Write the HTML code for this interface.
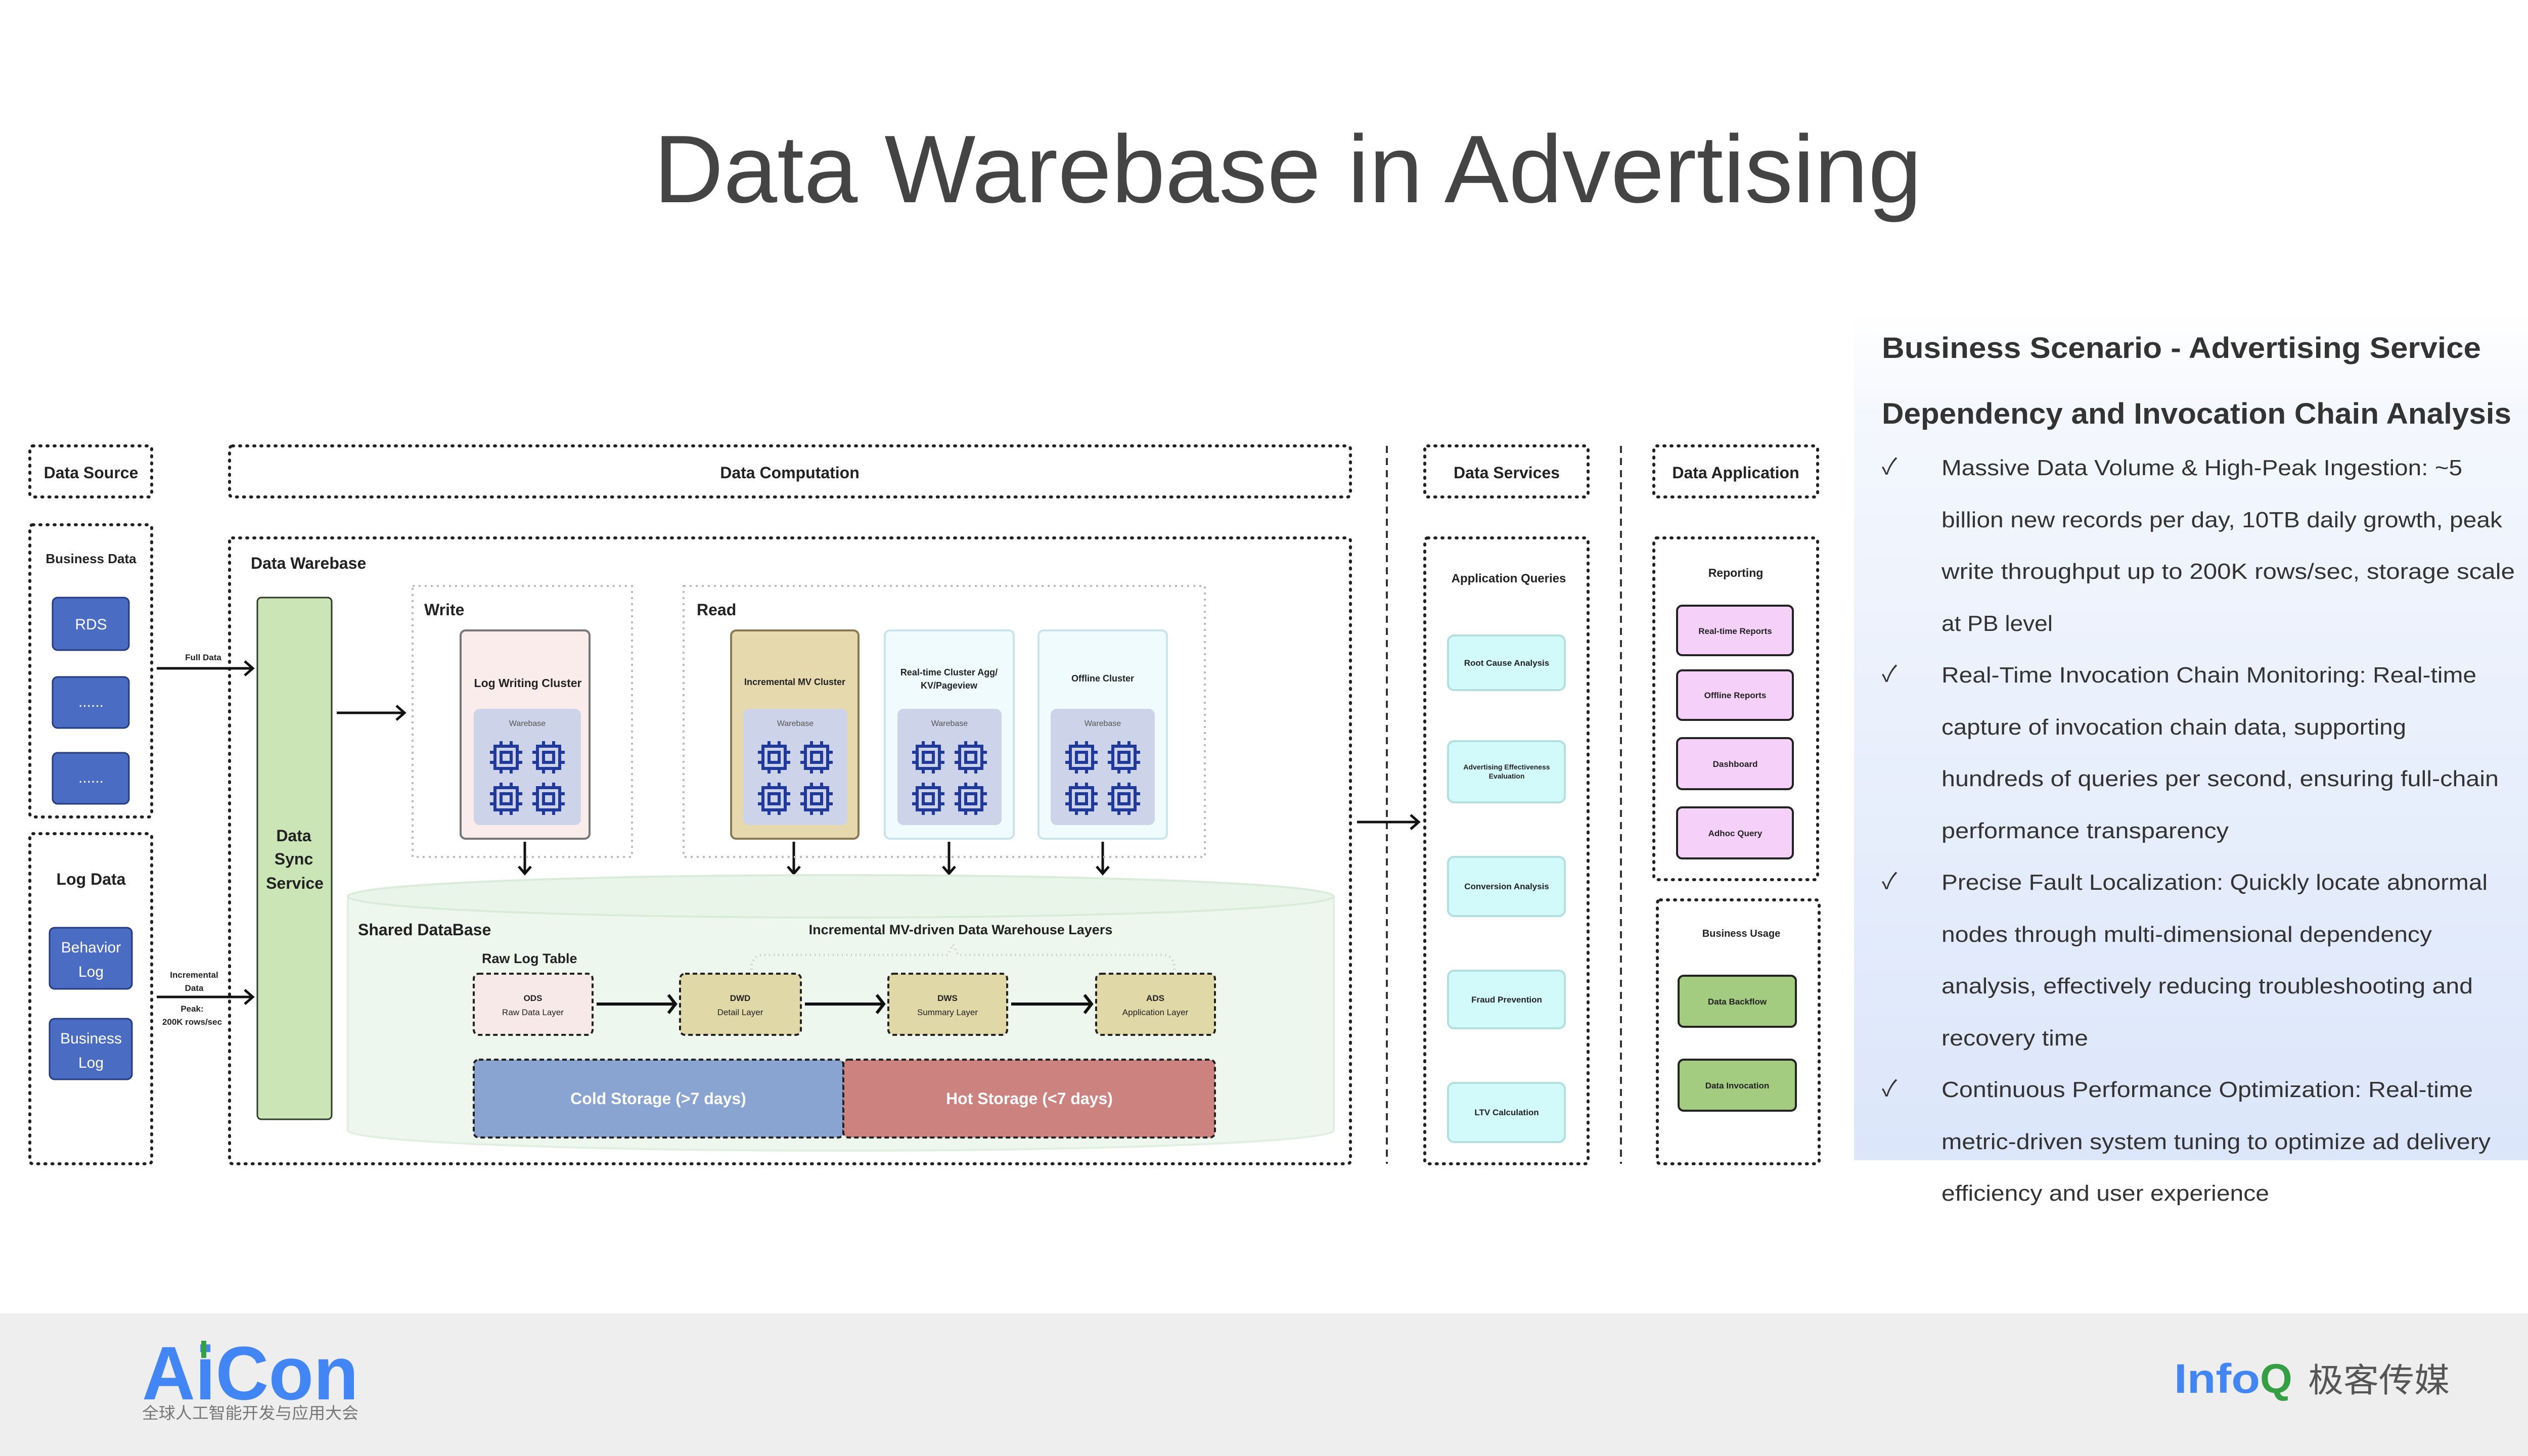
<!DOCTYPE html>
<html><head><meta charset="utf-8"><style>
html,body{margin:0;padding:0;background:#fff;}
svg{display:block;}
text{font-family:"Liberation Sans","Noto Sans CJK SC",sans-serif;}
</style></head><body>
<svg width="5120" height="2880" viewBox="0 0 5120 2880" xmlns="http://www.w3.org/2000/svg">
<defs>
<linearGradient id="pg" x1="0" y1="0" x2="0" y2="1">
<stop offset="0" stop-color="#ffffff"/><stop offset="0.12" stop-color="#f4f7fd"/><stop offset="1" stop-color="#dbe6fa"/>
</linearGradient>
<marker id="ah" viewBox="0 0 20 20" refX="18" refY="10" markerWidth="8" markerHeight="8" markerUnits="userSpaceOnUse" orient="auto">
</marker>
<g id="chip" fill="none" stroke="#1f3a9c" stroke-width="6">
<rect x="-22" y="-22" width="44" height="44"/>
<rect x="-10" y="-10" width="20" height="20"/>
<path d="M-10,-22v-10M10,-22v-10M-10,22v10M10,22v10M-22,-10h-10M-22,10h-10M22,-10h10M22,10h10"/>
</g>
<g id="chips">
<use href="#chip" x="-42" y="0"/><use href="#chip" x="42" y="0"/>
<use href="#chip" x="-42" y="82"/><use href="#chip" x="42" y="82"/>
</g>
</defs>

<rect width="5120" height="2880" fill="#fff"/>
<!-- Title -->
<text x="2547" y="400" font-size="190" fill="#444" text-anchor="middle" textLength="2508" lengthAdjust="spacingAndGlyphs">Data Warebase in Advertising</text>

<!-- header boxes -->
<g fill="none" stroke="#222" stroke-width="6" stroke-dasharray="2 12" stroke-linecap="round">
<rect x="59" y="882" width="241" height="101" rx="6"/>
<rect x="454" y="882" width="2217" height="101" rx="6"/>
<rect x="2818" y="882" width="323" height="101" rx="6"/>
<rect x="3271" y="882" width="324" height="101" rx="6"/>
<rect x="59" y="1038" width="241" height="578" rx="6"/>
<rect x="59" y="1649" width="241" height="653" rx="6"/>
<rect x="454" y="1064" width="2217" height="1238" rx="6"/>
<rect x="2818" y="1064" width="323" height="1238" rx="6"/>
<rect x="3271" y="1064" width="324" height="676" rx="6"/>
<rect x="3278" y="1780" width="320" height="522" rx="6"/>
</g>
<g stroke="#333" stroke-width="4" stroke-dasharray="14 10">
<line x1="2743" y1="882" x2="2743" y2="2302"/>
<line x1="3206" y1="882" x2="3206" y2="2302"/>
</g>
<g font-weight="bold" font-size="32" fill="#222" text-anchor="middle">
<text x="180" y="946">Data Source</text>
<text x="1562" y="946">Data Computation</text>
<text x="2980" y="946">Data Services</text>
<text x="3433" y="946">Data Application</text>
</g>

<!-- Data source -->
<text x="180" y="1114" font-size="26" font-weight="bold" fill="#222" text-anchor="middle">Business Data</text>
<g fill="#4a6cc3" stroke="#263a80" stroke-width="3">
<rect x="104" y="1182" width="151" height="104" rx="10"/>
<rect x="104" y="1339" width="151" height="101" rx="10"/>
<rect x="104" y="1489" width="151" height="101" rx="10"/>
<rect x="98" y="1835" width="163" height="121" rx="10"/>
<rect x="98" y="2015" width="163" height="120" rx="10"/>
</g>
<g fill="#fff" font-size="30" text-anchor="middle">
<text x="180" y="1245">RDS</text>
<text x="180" y="1398">......</text>
<text x="180" y="1548">......</text>
<text x="180" y="1884">Behavior</text>
<text x="180" y="1932">Log</text>
<text x="180" y="2064">Business</text>
<text x="180" y="2112">Log</text>
</g>
<text x="180" y="1750" font-size="32" font-weight="bold" fill="#222" text-anchor="middle">Log Data</text>

<!-- arrows -->
<g stroke="#111" stroke-width="5" fill="none">
<path d="M310,1322H500M484,1308l16,14l-16,14"/>
<path d="M310,1972H500M484,1958l16,14l-16,14"/>
<path d="M666,1410H800M784,1396l16,14l-16,14"/>
<path d="M2684,1626H2806M2790,1612l16,14l-16,14"/>
<path d="M1038,1665V1728M1026,1714l12,14l12,-14"/>
<path d="M1570,1665V1728M1558,1714l12,14l12,-14"/>
<path d="M1877,1665V1728M1865,1714l12,14l12,-14"/>
<path d="M2181,1665V1728M2169,1714l12,14l12,-14"/>
</g>
<g font-size="17" fill="#222" text-anchor="middle" font-weight="bold">
<text x="402" y="1306">Full Data</text>
<text x="384" y="1934">Incremental</text>
<text x="384" y="1960">Data</text>
<text x="380" y="2001">Peak:</text>
<text x="380" y="2027">200K rows/sec</text>
</g>

<!-- Data Warebase -->
<text x="496" y="1125" font-size="32" font-weight="bold" fill="#222">Data Warebase</text>
<rect x="509" y="1182" width="147" height="1032" rx="8" fill="#cce5b6" stroke="#2e3b2a" stroke-width="3"/>
<g font-size="32" font-weight="bold" fill="#222" text-anchor="middle">
<text x="581" y="1664">Data</text>
<text x="581" y="1710">Sync</text>
<text x="583" y="1758">Service</text>
</g>

<g fill="none" stroke="#bbb" stroke-width="4" stroke-dasharray="4 8">
<rect x="816" y="1159" width="434" height="536"/>
<rect x="1352" y="1159" width="1031" height="536"/>
</g>
<text x="839" y="1217" font-size="32" font-weight="bold" fill="#222">Write</text>
<text x="1378" y="1217" font-size="32" font-weight="bold" fill="#222">Read</text>

<!-- clusters -->
<rect x="911" y="1247" width="255" height="412" rx="10" fill="#fbecec" stroke="#777" stroke-width="4"/>
<rect x="1446" y="1247" width="252" height="412" rx="10" fill="#e6d9ae" stroke="#8b7b54" stroke-width="4"/>
<rect x="1750" y="1247" width="255" height="412" rx="10" fill="#effbfd" stroke="#c9e4ea" stroke-width="4"/>
<rect x="2054" y="1247" width="254" height="412" rx="10" fill="#effbfd" stroke="#c9e4ea" stroke-width="4"/>
<g fill="#cdd3e8">
<rect x="937" y="1402" width="212" height="230" rx="12"/>
<rect x="1470" y="1402" width="206" height="230" rx="12"/>
<rect x="1775" y="1402" width="206" height="230" rx="12"/>
<rect x="2078" y="1402" width="206" height="230" rx="12"/>
</g>
<g font-size="23" font-weight="bold" fill="#222" text-anchor="middle">
<text x="1044" y="1359">Log Writing Cluster</text>
<text x="1572" y="1355" font-size="18">Incremental MV Cluster</text>
<text x="1877" y="1336" font-size="18">Real-time Cluster Agg/</text>
<text x="1877" y="1362" font-size="18">KV/Pageview</text>
<text x="2181" y="1348" font-size="18">Offline Cluster</text>
</g>
<g font-size="16" fill="#555" text-anchor="middle">
<text x="1043" y="1436">Warebase</text>
<text x="1573" y="1436">Warebase</text>
<text x="1878" y="1436">Warebase</text>
<text x="2181" y="1436">Warebase</text>
</g>
<use href="#chips" x="1043" y="1498"/>
<use href="#chips" x="1573" y="1498"/>
<use href="#chips" x="1878" y="1498"/>
<use href="#chips" x="2181" y="1498"/>

<!-- cylinder -->
<path d="M688,1773 V2236 A975,40 0 0 0 2638,2236 V1773" fill="#eef7ee" stroke="#e0efe0" stroke-width="4"/>
<ellipse cx="1663" cy="1773" rx="975" ry="42" fill="#eaf5ea" stroke="#d9ebd9" stroke-width="4"/>
<text x="708" y="1850" font-size="32" font-weight="bold" fill="#222">Shared DataBase</text>
<text x="1900" y="1848" font-size="27" font-weight="bold" fill="#222" text-anchor="middle">Incremental MV-driven Data Warehouse Layers</text>
<text x="953" y="1905" font-size="27" font-weight="bold" fill="#222">Raw Log Table</text>
<path d="M1486,1918 Q1486,1889 1510,1889 H1875 L1885,1868 L1895,1889 H2300 Q2323,1889 2323,1918" fill="none" stroke="#c9cfc9" stroke-width="5" stroke-dasharray="2 7"/>

<g stroke="#222" stroke-width="4" stroke-dasharray="9 6">
<rect x="937" y="1926" width="235" height="121" rx="10" fill="#f7e9e8"/>
<rect x="1345" y="1926" width="239" height="121" rx="10" fill="#e1d8a8"/>
<rect x="1757" y="1926" width="235" height="121" rx="10" fill="#e1d8a8"/>
<rect x="2168" y="1926" width="235" height="121" rx="10" fill="#e1d8a8"/>
<rect x="937" y="2096" width="731" height="154" rx="10" fill="#8aa4d2"/>
<rect x="1668" y="2096" width="735" height="154" rx="10" fill="#cc827e"/>
</g>
<g stroke="#111" stroke-width="6" fill="none">
<path d="M1180,1986H1336M1322,1968l14,18l-14,18"/>
<path d="M1592,1986H1748M1734,1968l14,18l-14,18"/>
<path d="M2000,1986H2159M2145,1968l14,18l-14,18"/>
</g>
<g font-size="17" fill="#222" text-anchor="middle">
<text x="1054" y="1980" font-weight="bold">ODS</text><text x="1054" y="2008">Raw Data Layer</text>
<text x="1464" y="1980" font-weight="bold">DWD</text><text x="1464" y="2008">Detail Layer</text>
<text x="1874" y="1980" font-weight="bold">DWS</text><text x="1874" y="2008">Summary Layer</text>
<text x="2285" y="1980" font-weight="bold">ADS</text><text x="2285" y="2008">Application Layer</text>
</g>
<g font-size="32" font-weight="bold" fill="#fff" text-anchor="middle">
<text x="1302" y="2184">Cold Storage (&gt;7 days)</text>
<text x="2036" y="2184">Hot Storage (&lt;7 days)</text>
</g>

<!-- Data Services -->
<text x="2984" y="1152" font-size="24" font-weight="bold" fill="#222" text-anchor="middle">Application Queries</text>
<g fill="#d2fafb" stroke="#b3dfe0" stroke-width="4">
<rect x="2864" y="1257" width="231" height="108" rx="12"/>
<rect x="2864" y="1466" width="231" height="121" rx="12"/>
<rect x="2864" y="1695" width="231" height="117" rx="12"/>
<rect x="2864" y="1920" width="231" height="114" rx="12"/>
<rect x="2864" y="2142" width="231" height="117" rx="12"/>
</g>
<g font-size="17" font-weight="bold" fill="#222" text-anchor="middle">
<text x="2980" y="1317">Root Cause Analysis</text>
<text x="2980" y="1522" font-size="14">Advertising Effectiveness</text>
<text x="2980" y="1540" font-size="14">Evaluation</text>
<text x="2980" y="1759">Conversion Analysis</text>
<text x="2980" y="1983">Fraud Prevention</text>
<text x="2980" y="2206">LTV Calculation</text>
</g>

<!-- Data Application -->
<text x="3433" y="1141" font-size="23" font-weight="bold" fill="#222" text-anchor="middle">Reporting</text>
<g fill="#f5d0f9" stroke="#222" stroke-width="4">
<rect x="3317" y="1198" width="229" height="98" rx="10"/>
<rect x="3317" y="1326" width="229" height="98" rx="10"/>
<rect x="3317" y="1460" width="229" height="101" rx="10"/>
<rect x="3317" y="1597" width="229" height="101" rx="10"/>
</g>
<g font-size="17" font-weight="bold" fill="#222" text-anchor="middle">
<text x="3432" y="1254">Real-time Reports</text>
<text x="3432" y="1381">Offline Reports</text>
<text x="3432" y="1517">Dashboard</text>
<text x="3432" y="1654">Adhoc Query</text>
</g>
<text x="3444" y="1853" font-size="20" font-weight="bold" fill="#222" text-anchor="middle">Business Usage</text>
<g fill="#a3cc81" stroke="#222" stroke-width="4">
<rect x="3320" y="1930" width="232" height="101" rx="10"/>
<rect x="3320" y="2096" width="232" height="101" rx="10"/>
</g>
<g font-size="17" font-weight="bold" fill="#222" text-anchor="middle">
<text x="3436" y="1987">Data Backflow</text>
<text x="3436" y="2153">Data Invocation</text>
</g>

<!-- Right panel -->
<rect x="3667" y="620" width="1351" height="1675" fill="url(#pg)"/>
<g font-size="58" font-weight="bold" fill="#333">
<text x="3722" y="708" textLength="1185" lengthAdjust="spacingAndGlyphs">Business Scenario  -  Advertising Service</text>
<text x="3722" y="838" textLength="1245" lengthAdjust="spacingAndGlyphs">Dependency and Invocation Chain Analysis</text>
</g>
<g font-size="44" fill="#333">
<text x="3722" y="938">✓</text>
<text x="3722" y="1348">✓</text>
<text x="3722" y="1758">✓</text>
<text x="3722" y="2168">✓</text>
<text x="3840" y="940" textLength="1030" lengthAdjust="spacingAndGlyphs">Massive Data Volume &amp; High-Peak Ingestion:  ~5</text>
<text x="3840" y="1043" textLength="1109" lengthAdjust="spacingAndGlyphs">billion new records per day, 10TB daily growth, peak</text>
<text x="3840" y="1145" textLength="1134" lengthAdjust="spacingAndGlyphs">write throughput up to 200K rows/sec, storage scale</text>
<text x="3840" y="1248" textLength="220" lengthAdjust="spacingAndGlyphs">at PB level</text>
<text x="3840" y="1350" textLength="1058" lengthAdjust="spacingAndGlyphs">Real-Time Invocation Chain Monitoring:  Real-time</text>
<text x="3840" y="1453" textLength="919" lengthAdjust="spacingAndGlyphs">capture of invocation chain data, supporting</text>
<text x="3840" y="1555" textLength="1102" lengthAdjust="spacingAndGlyphs">hundreds of queries per second, ensuring full-chain</text>
<text x="3840" y="1658" textLength="568" lengthAdjust="spacingAndGlyphs">performance transparency</text>
<text x="3840" y="1760" textLength="1080" lengthAdjust="spacingAndGlyphs">Precise Fault Localization:  Quickly locate abnormal</text>
<text x="3840" y="1863" textLength="970" lengthAdjust="spacingAndGlyphs">nodes through multi-dimensional dependency</text>
<text x="3840" y="1965" textLength="1051" lengthAdjust="spacingAndGlyphs">analysis, effectively reducing troubleshooting and</text>
<text x="3840" y="2068" textLength="290" lengthAdjust="spacingAndGlyphs">recovery time</text>
<text x="3840" y="2170" textLength="1051" lengthAdjust="spacingAndGlyphs">Continuous Performance Optimization:  Real-time</text>
<text x="3840" y="2273" textLength="1086" lengthAdjust="spacingAndGlyphs">metric-driven system tuning to optimize ad delivery</text>
<text x="3840" y="2375" textLength="648" lengthAdjust="spacingAndGlyphs">efficiency and user experience</text>
</g>

<!-- footer -->
<rect x="0" y="2598" width="5120" height="282" fill="#eeeeee"/>
<text x="281" y="2768" font-size="150" font-weight="bold" fill="#4285f4" textLength="428" lengthAdjust="spacingAndGlyphs">AiCon</text>
<rect x="398" y="2652" width="10" height="34" fill="#34a043"/>
<text x="281" y="2806" font-size="32" fill="#777" textLength="428" lengthAdjust="spacingAndGlyphs">全球人工智能开发与应用大会</text>
<text x="4300" y="2755" font-size="82" font-weight="bold" fill="#4285f4" textLength="170" lengthAdjust="spacingAndGlyphs">Info</text>
<text x="4470" y="2755" font-size="82" font-weight="bold" fill="#34a043">Q</text>
<text x="4565" y="2753" font-size="66" fill="#555" textLength="280" lengthAdjust="spacingAndGlyphs">极客传媒</text>
</svg>
</body></html>
